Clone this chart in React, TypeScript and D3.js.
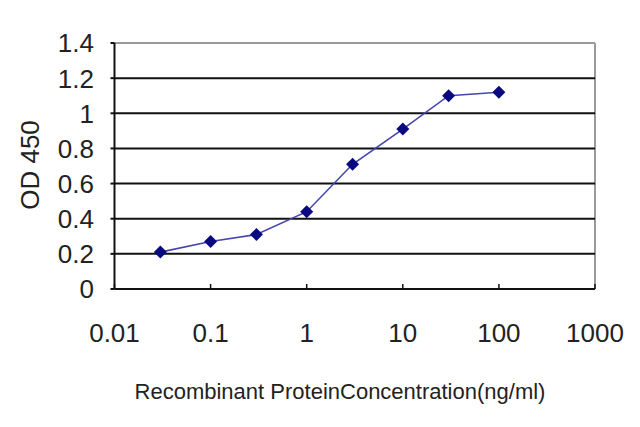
import React from "react";
import * as d3 from "d3";

const concentrations = [0.03, 0.1, 0.3, 1, 3, 10, 30, 100];
const odValues = [0.21, 0.27, 0.31, 0.44, 0.71, 0.91, 1.1, 1.12];
const xTicks = [0.01, 0.1, 1, 10, 100, 1000];
const xTickLabels = ["0.01", "0.1", "1", "10", "100", "1000"];
const yTicks = [0, 0.2, 0.4, 0.6, 0.8, 1, 1.2, 1.4];
const yTickLabels = ["0", "0.2", "0.4", "0.6", "0.8", "1", "1.2", "1.4"];
const xTitle = "Recombinant ProteinConcentration(ng/ml)";
const yTitle = "OD 450";

const W = 640;
const H = 427;
const left = 114.5;
const right = 595;
const top = 43;
const bottom = 289;

export default function App() {
  const x = d3.scaleLog().domain([0.01, 1000]).range([left, right]);
  const y = d3.scaleLinear().domain([0, 1.4]).range([bottom, top]);
  const pts = concentrations.map((c, i) => [x(c), y(odValues[i])] as [number, number]);
  const line = d3.line()(pts) || "";
  const r = 6.5;
  const diamond = `M0,${-r}L${r},0L0,${r}L${-r},0Z`;
  const font = "'Liberation Sans', Arial, sans-serif";

  return (
    <svg
      width={W}
      height={H}
      style={{ position: "absolute", left: 0, top: 0, background: "#fff" }}
      fontFamily={font}
    >
      <rect x={0} y={0} width={W} height={H} fill="#fff" />
      <line x1={left} x2={right} y1={y(1.4)} y2={y(1.4)} stroke="#9a9a9a" strokeWidth={2} />
      <line x1={right} x2={right} y1={top} y2={bottom} stroke="#9a9a9a" strokeWidth={2} />
      {yTicks
        .filter((t) => t > 0 && t < 1.4)
        .map((t) => (
          <line key={t} x1={left} x2={right} y1={y(t)} y2={y(t)} stroke="#111" strokeWidth={2} />
        ))}
      <line x1={left} x2={left} y1={top} y2={bottom} stroke="#111" strokeWidth={2} />
      <line x1={left} x2={right} y1={bottom} y2={bottom} stroke="#111" strokeWidth={2} />
      {yTicks.map((t) => (
        <line key={"yt" + t} x1={left - 4} x2={left} y1={y(t)} y2={y(t)} stroke="#111" strokeWidth={2} />
      ))}
      {xTicks.map((t) => (
        <line key={"xt" + t} x1={x(t)} x2={x(t)} y1={bottom} y2={bottom - 5} stroke="#111" strokeWidth={1.5} />
      ))}
      {yTicks.map((t, i) => (
        <text
          key={"yl" + t}
          x={94}
          y={y(t)}
          dy="0.36em"
          textAnchor="end"
          fontSize={26}
          fill="#222"
        >
          {yTickLabels[i]}
        </text>
      ))}
      {xTicks.map((t, i) => (
        <text key={"xl" + t} x={x(t)} y={342} textAnchor="middle" fontSize={26} fill="#222">
          {xTickLabels[i]}
        </text>
      ))}
      <text x={340} y={399} textAnchor="middle" fontSize={22} fill="#222">
        {xTitle}
      </text>
      <text
        transform={`translate(39,165) rotate(-90)`}
        textAnchor="middle"
        fontSize={26}
        fill="#222"
      >
        {yTitle}
      </text>
      <path d={line} fill="none" stroke="#4545b0" strokeWidth={1.6} />
      {pts.map((p, i) => (
        <path key={"m" + i} d={diamond} transform={`translate(${p[0]},${p[1]})`} fill="#0a0a80" />
      ))}
    </svg>
  );
}
